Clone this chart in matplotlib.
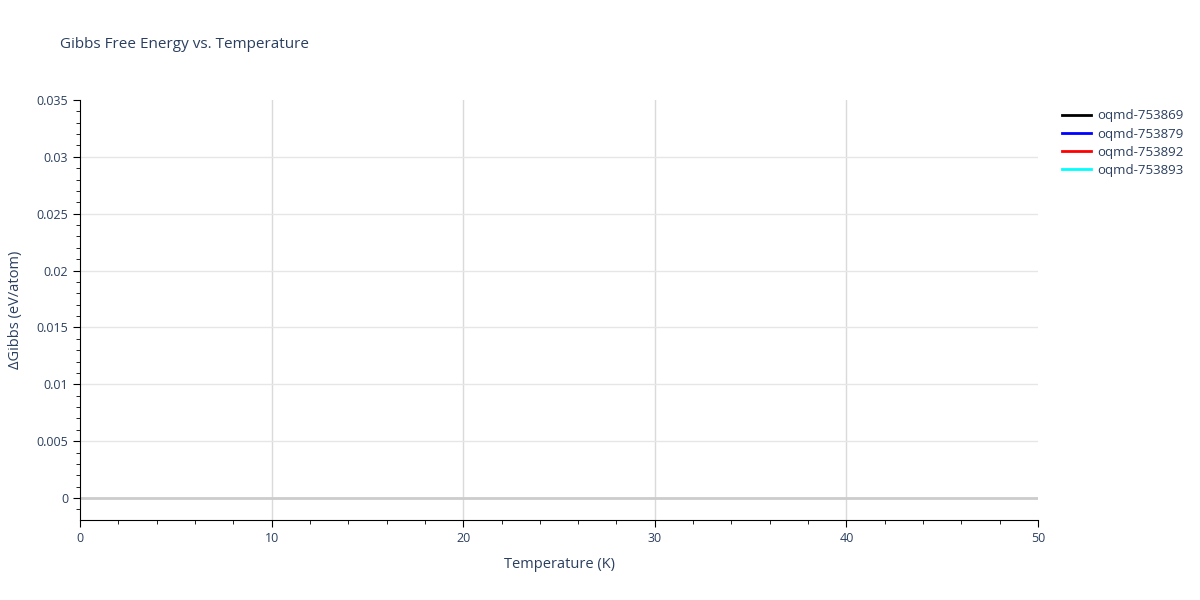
import matplotlib
matplotlib.use("Agg")
import matplotlib.pyplot as plt
from matplotlib.ticker import MultipleLocator

# data: no points fall inside the visible temperature window
names = ["oqmd-753869", "oqmd-753879", "oqmd-753892", "oqmd-753893"]
colors = ["black", "blue", "red", "cyan"]
temps = [[], [], [], []]
gibbs = [[], [], [], []]

xticks = [0, 10, 20, 30, 40, 50]
yticks = [0, 0.005, 0.01, 0.015, 0.02, 0.025, 0.03, 0.035]
ylabels = ["0", "0.005", "0.01", "0.015", "0.02", "0.025", "0.03", "0.035"]

txt = "#2a3f5f"
plt.rcParams["font.family"] = ["Open Sans", "DejaVu Sans"]

fig = plt.figure(figsize=(12, 6), dpi=100)
ax = fig.add_axes([80 / 1200, 80 / 600, 958 / 1200, 420 / 600])

for t, g, n, c in zip(temps, gibbs, names, colors):
    ax.plot(t, g, color=c, lw=2, label=n)

ax.set_xlim(0, 50)
ax.set_ylim(-0.00193, 0.035)
ax.set_xticks(xticks)
ax.xaxis.set_minor_locator(MultipleLocator(2))
ax.set_yticks(yticks)
ax.set_yticklabels(ylabels)
ax.yaxis.set_minor_locator(MultipleLocator(0.001))

# inner grid lines only (none on the plot edges)
for x in xticks[1:-1]:
    ax.axvline(x, color="#dadada", lw=1, zorder=0)
for y in yticks[1:-1]:
    ax.axhline(y, color="#e6e6e6", lw=1, zorder=0)
ax.axhline(0, color="#cccccc", lw=2, zorder=1)

for s in ["top", "right"]:
    ax.spines[s].set_visible(False)
ax.spines["left"].set_color("black")
ax.spines["bottom"].set_color("black")
ax.tick_params(which="major", direction="out", length=5, color="black",
               labelcolor=txt, labelsize=9)
ax.tick_params(which="minor", direction="out", length=3, color="black")

ax.set_xlabel("Temperature (K)", color=txt, fontsize=10.5, labelpad=9)
ax.set_ylabel("ΔGibbs (eV/atom)", color=txt, fontsize=10.5, labelpad=10)
fig.text(60 / 1200, 1 - 45 / 600, "Gibbs Free Energy vs. Temperature",
         color=txt, fontsize=11, va="center")

leg = ax.legend(loc="upper left", bbox_to_anchor=(1.015, 1.0), frameon=False,
                fontsize=9.5, labelcolor=txt, handlelength=2.2, borderaxespad=0.3,
                labelspacing=0.4, handletextpad=0.5)
for h in leg.get_lines():
    h.set_linewidth(2)

fig.savefig("out.png", dpi=100)
